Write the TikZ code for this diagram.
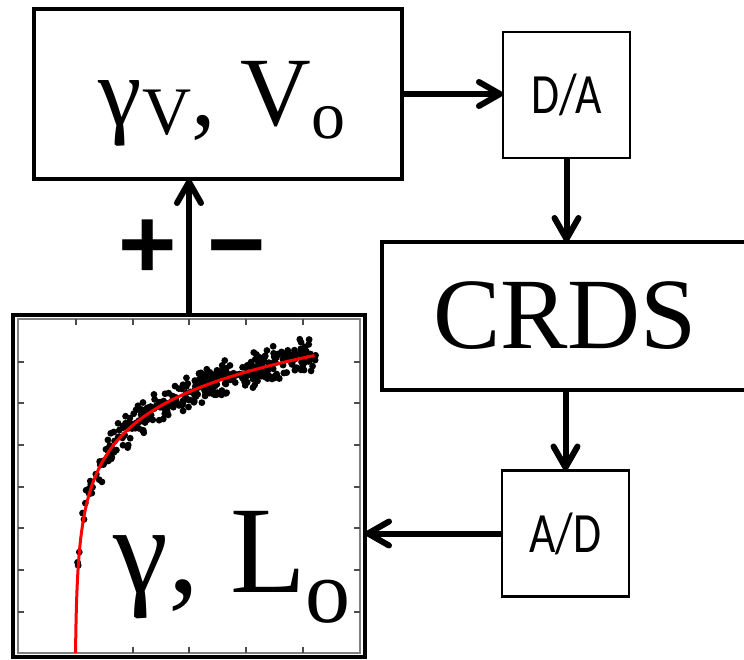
\documentclass[tikz,border=0pt]{standalone}
\usepackage{fontspec}
\setmainfont{Liberation Serif}
\newfontfamily\boxfont[FakeStretch=0.8]{Carlito}
\newfontfamily\signfont{Liberation Sans}
\usetikzlibrary{arrows.meta, calc, positioning}

% lowered smaller letter (subscript by hand)
\newcommand{\lowsub}[3]{\raisebox{#1}{\fontsize{#2}{#2}\selectfont #3}}

\begin{document}
\begin{tikzpicture}[
		x=1pt, y=-1pt,
		every node/.style={
				inner sep=0pt,
				outer sep=0pt
			},
		bigbox/.style={draw, line width=4.5pt},
		convbox/.style={
				draw,
				line width=2.5pt,
				minimum width=127pt,
				minimum height=126pt,
				font=\boxfont\fontsize{57}{57}\selectfont
			},
		link/.style={
				line width=6pt,
				-{Straight Barb[length=21pt, width=24pt, line cap=round, line join=round]}
			},
		sign/.style={anchor=base, font=\signfont\bfseries\fontsize{100}{100}\selectfont},
		tick/.style={gray!60!black, line width=1.2pt}
	]
	\useasboundingbox (0,0) rectangle (744,660);

	\node[bigbox, minimum width=368pt, minimum height=170pt] (param) at (218,94) {};
	\node[anchor=base] (paramlabel) at (222,126)
	{\fontsize{98}{98}\selectfont γ\lowsub{-9pt}{68}{V}, V\lowsub{-13pt}{68}{o}};

	\node[convbox] (DA) at (566.5,95) {D/A};
	\node[bigbox, minimum width=366pt, minimum height=148pt,
		font=\fontsize{101}{101}\selectfont] (CRDS) at (565,316) {CRDS};
	\node[convbox] (AD) at (565.5,533.5) {A/D};

	\node[bigbox, minimum width=352pt, minimum height=342pt] (plot) at (189,486) {};

	% inner frame of the plot with its ticks
	\draw[gray, line width=1.5pt] (18,319) rectangle (360,653);
	\foreach \tx in {76,133,189,246,303} {
			\draw[tick] (\tx,319) -- ++(0,6);
			\draw[tick] (\tx,653) -- ++(0,-6);
		}
	\foreach \ty in {362,403,445,487,528,570,612} {
			\draw[tick] (18,\ty) -- ++(6,0);
			\draw[tick] (360,\ty) -- ++(-6,0);
		}

	% measured points
	\pgfmathsetseed{4711}
	\foreach \i in {1,...,380} {
			\pgfmathsetmacro\px{75.8+240*rnd^0.85}
			\pgfmathsetmacro\py{624-49*ln(\px-75)+10*(rand+rand)}
			\fill (\px,\py) circle[radius=3.4];
		}
	% fit
	\draw[red, line width=3pt] plot[domain=-0.59:5.48, samples=120] ({75+exp(\x)},{624-49*\x});

	\node[anchor=base] (fitlabel) at (232,592)
	{\fontsize{124}{124}\selectfont γ, L\lowsub{-30pt}{90}{o}};

	\node[sign] (plus) at (148,279) {+};
	\node[sign] (minus) at (237,279) {−};

	\draw[link] (param.east) -- (param.east -| DA.west);
	\draw[link] (DA.south) -- (DA.south |- CRDS.north);
	\draw[link] (AD.north |- CRDS.south) -- (AD.north);
	\draw[link] (AD.west) -- (AD.west -| plot.east);
	\draw[link] (plot.north) -- (plot.north |- param.south);
\end{tikzpicture}
\end{document}
